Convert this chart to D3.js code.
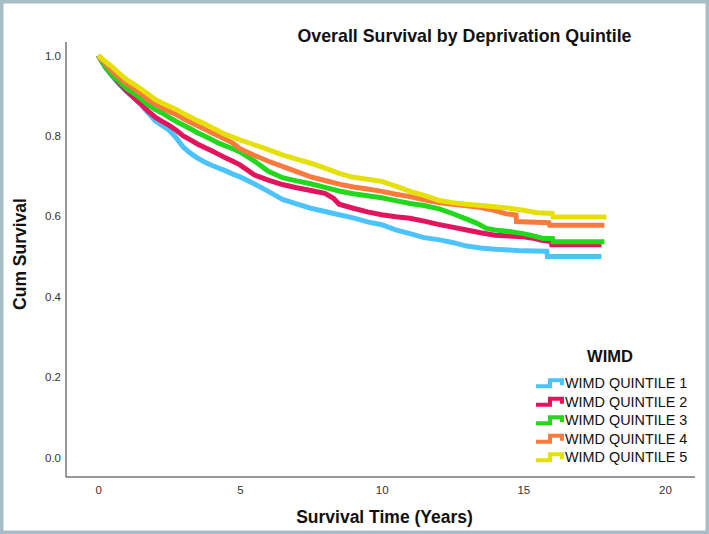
<!DOCTYPE html>
<html>
<head>
<meta charset="utf-8">
<script src="https://cdn.jsdelivr.net/npm/d3@7"></script>
<style>
  html, body { margin: 0; padding: 0; background: #fff; }
  svg { display: block; font-family: "Liberation Sans", Arial, sans-serif; }
</style>
</head>
<body>
<svg id="chart" width="709" height="534"></svg>
<script>
// ---- DATA ----
const title = "Overall Survival by Deprivation Quintile";
const xTitle = "Survival Time (Years)";
const yTitle = "Cum Survival";
const legendTitle = "WIMD";
const seriesNames = ["WIMD QUINTILE 1", "WIMD QUINTILE 2", "WIMD QUINTILE 3", "WIMD QUINTILE 4", "WIMD QUINTILE 5"];
const seriesColors = ["#4cc4fb", "#e1155e", "#22d81c", "#fa7a3e", "#e6e00a"];
const xTicks = [0, 5, 10, 15, 20];
const yTicks = [0.0, 0.2, 0.4, 0.6, 0.8, 1.0];

// [time (years), cumulative survival]
const q1 = [[0,1],[0.25,0.970],[0.5,0.948],[0.75,0.928],[1,0.910],[1.25,0.895],[1.5,0.878],[1.75,0.858],[2,0.838],[2.25,0.826],[2.5,0.814],[2.75,0.795],[3,0.772],[3.25,0.757],[3.5,0.745],[3.75,0.735],[4,0.727],[4.25,0.720],[4.5,0.713],[4.75,0.705],[5,0.698],[5.5,0.681],[6,0.662],[6.5,0.642],[7,0.631],[7.5,0.620],[8,0.612],[8.5,0.604],[9,0.596],[9.5,0.586],[10,0.579],[10.5,0.566],[11,0.557],[11.5,0.547],[12,0.542],[12.5,0.535],[13,0.526],[13.5,0.521],[14,0.518],[14.5,0.516],[15,0.514],[15.83,0.513],[15.85,0.500],[17.76,0.500]];
const q2 = [[0,1],[0.25,0.972],[0.5,0.950],[0.75,0.930],[1,0.912],[1.25,0.895],[1.5,0.880],[1.75,0.862],[2,0.847],[2.25,0.836],[2.5,0.826],[2.75,0.814],[3,0.800],[3.25,0.790],[3.5,0.780],[3.75,0.771],[4,0.763],[4.25,0.754],[4.5,0.745],[4.75,0.737],[5,0.728],[5.5,0.703],[6,0.690],[6.5,0.679],[7,0.671],[7.5,0.664],[8,0.657],[8.3,0.645],[8.5,0.630],[9,0.620],[9.5,0.611],[10,0.604],[10.5,0.599],[11,0.595],[11.5,0.588],[12,0.580],[12.5,0.573],[13,0.566],[13.5,0.559],[14,0.553],[14.5,0.551],[15,0.549],[15.4,0.545],[15.6,0.541],[15.98,0.537],[16,0.529],[17.76,0.529]];
const q3 = [[0,1],[0.25,0.972],[0.5,0.950],[0.75,0.935],[1,0.918],[1.25,0.906],[1.5,0.893],[1.75,0.878],[2,0.866],[2.25,0.857],[2.5,0.846],[2.75,0.836],[3,0.827],[3.25,0.818],[3.5,0.808],[3.75,0.800],[4,0.791],[4.25,0.782],[4.5,0.775],[4.75,0.768],[5,0.760],[5.5,0.738],[6,0.712],[6.5,0.696],[7,0.688],[7.5,0.681],[8,0.672],[8.5,0.663],[9,0.656],[9.5,0.651],[10,0.646],[10.5,0.639],[11,0.632],[11.5,0.627],[12,0.619],[12.5,0.607],[13,0.593],[13.35,0.583],[13.7,0.570],[14,0.566],[14.5,0.562],[15,0.557],[15.25,0.553],[15.7,0.545],[16.03,0.545],[16.05,0.537],[17.86,0.537]];
const q4 = [[0,1],[0.25,0.980],[0.5,0.960],[0.75,0.945],[1,0.930],[1.25,0.918],[1.5,0.905],[1.75,0.890],[2,0.879],[2.25,0.870],[2.5,0.861],[2.75,0.853],[3,0.843],[3.25,0.834],[3.5,0.825],[3.75,0.817],[4,0.808],[4.25,0.800],[4.5,0.791],[4.75,0.782],[5,0.768],[5.5,0.752],[6,0.737],[6.5,0.724],[7,0.711],[7.5,0.698],[8,0.689],[8.5,0.680],[9,0.673],[9.5,0.668],[10,0.662],[10.5,0.655],[11,0.649],[11.5,0.641],[12,0.634],[12.5,0.630],[13,0.626],[13.5,0.622],[14,0.614],[14.4,0.606],[14.74,0.603],[14.76,0.587],[15.9,0.584],[15.93,0.578],[17.86,0.578]];
const q5 = [[0,1],[0.25,0.985],[0.5,0.971],[0.75,0.955],[1,0.940],[1.25,0.929],[1.5,0.917],[1.75,0.904],[2,0.891],[2.25,0.882],[2.5,0.874],[2.75,0.866],[3,0.856],[3.25,0.847],[3.5,0.838],[3.75,0.830],[4,0.821],[4.25,0.812],[4.5,0.803],[4.75,0.797],[5,0.790],[5.5,0.778],[6,0.766],[6.5,0.753],[7,0.742],[7.5,0.732],[8,0.720],[8.5,0.707],[9,0.697],[9.5,0.692],[10,0.687],[10.5,0.675],[11,0.662],[11.5,0.652],[12,0.640],[12.5,0.634],[13,0.630],[13.5,0.627],[14,0.624],[14.5,0.620],[15,0.615],[15.5,0.609],[16.02,0.607],[16.05,0.598],[17.93,0.598]];
const seriesData = [q1, q2, q3, q4, q5];

// ---- DRAW ----
const svg = d3.select("#chart");
const W = 709, H = 534;

// frame
svg.append("rect").attr("x", 1.75).attr("y", 1.75).attr("width", W - 3.5).attr("height", H - 3.5)
  .attr("fill", "#fff").attr("stroke", "#a9bdc8").attr("stroke-width", 3.5);

const x = d3.scaleLinear().domain([0, 20]).range([98.3, 665]);
const y = d3.scaleLinear().domain([0, 1]).range([457.5, 55.5]);
const axisLeftX = 66, axisBottomY = 477, axisTopY = 42, axisRightX = 695;

// axes lines
svg.append("line").attr("x1", axisLeftX).attr("x2", axisLeftX).attr("y1", axisTopY).attr("y2", axisBottomY)
  .attr("stroke", "#333").attr("stroke-width", 1);
svg.append("line").attr("x1", axisLeftX).attr("x2", axisRightX).attr("y1", axisBottomY).attr("y2", axisBottomY)
  .attr("stroke", "#333").attr("stroke-width", 1);

const gx = svg.append("g").attr("transform", `translate(0,${axisBottomY})`)
  .call(d3.axisBottom(x).tickValues(xTicks).tickSize(0).tickPadding(9).tickFormat(d3.format("d")));
gx.select(".domain").remove();
gx.selectAll("text").attr("font-size", 11.5).attr("fill", "#333").attr("font-family", "Liberation Sans, Arial, sans-serif");

const gy = svg.append("g").attr("transform", `translate(${axisLeftX},0)`)
  .call(d3.axisLeft(y).tickValues(yTicks).tickSize(0).tickPadding(5).tickFormat(d3.format(".1f")));
gy.select(".domain").remove();
gy.selectAll("text").attr("font-size", 11.5).attr("fill", "#333").attr("font-family", "Liberation Sans, Arial, sans-serif");

// curves
const line = d3.line().x(d => x(d[0])).y(d => y(d[1])).curve(d3.curveLinear);
seriesData.forEach((s, i) => {
  svg.append("path").datum(s).attr("d", line)
    .attr("fill", "none").attr("stroke", seriesColors[i]).attr("stroke-width", 5)
    .attr("stroke-linejoin", "miter");
});

// titles
svg.append("text").attr("x", 464.5).attr("y", 42).attr("text-anchor", "middle")
  .attr("font-size", 17.8).attr("font-weight", "bold").attr("fill", "#111").text(title);
svg.append("text").attr("x", 384.5).attr("y", 523).attr("text-anchor", "middle")
  .attr("font-size", 17.5).attr("font-weight", "bold").attr("fill", "#111").text(xTitle);
svg.append("text").attr("transform", "translate(26,254) rotate(-90)").attr("text-anchor", "middle")
  .attr("font-size", 17.5).attr("font-weight", "bold").attr("fill", "#111").text(yTitle);

// legend
svg.append("text").attr("x", 610).attr("y", 362).attr("text-anchor", "middle")
  .attr("font-size", 16.5).attr("font-weight", "bold").attr("fill", "#111").text(legendTitle);
seriesNames.forEach((name, i) => {
  const cy = 383.3 + i * 18.5;
  svg.append("path")
    .attr("d", `M536,${cy + 3} H550 V${cy - 3} H562 V${cy + 2}`)
    .attr("fill", "none").attr("stroke", seriesColors[i]).attr("stroke-width", 4);
  svg.append("text").attr("x", 565).attr("y", cy + 5).attr("font-size", 14.4).attr("fill", "#111").text(name);
});
</script>
</body>
</html>
